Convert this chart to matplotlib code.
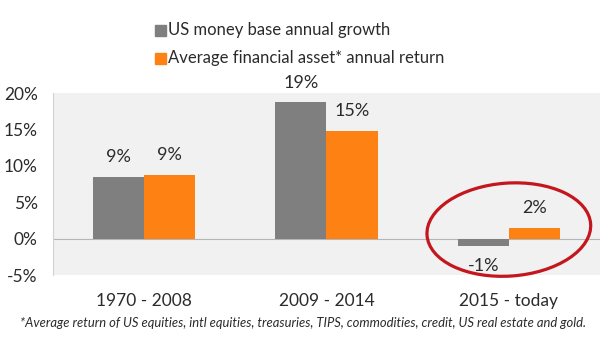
import numpy as np
import matplotlib.pyplot as plt
from matplotlib.patches import Ellipse, Rectangle
from matplotlib.transforms import ScaledTranslation

# periods and growth / return figures (%)
periods = ["1970 - 2008", "2009 - 2014", "2015 - today"]
money_base = [8.5, 18.7, -1.0]
asset_return = [8.8, 14.8, 1.5]
money_labels = ["9%", "19%", "-1%"]
asset_labels = ["9%", "15%", "2%"]
series_names = ["US money base annual growth",
                "Average financial asset* annual return"]

gray = "#7f7f7f"
orange = "#fd8113"
txt = "#2b2b2b"
plt.rcParams["font.family"] = ["Lato", "DejaVu Sans"]

fig = plt.figure(figsize=(6, 3.46), dpi=100)
ax = fig.add_axes([0.0883, 0.2052, 0.9117, 0.526])
ax.set_facecolor("#f1f1f1")

x = np.arange(len(periods))
w = 0.28
ax.bar(x - w / 2, money_base, w, color=gray)
ax.bar(x + w / 2, asset_return, w, color=orange)
ax.axhline(0, color="#b5b5b5", lw=0.8, zorder=0.5)

# value labels
for xs, vals, labs in [(x - w / 2, money_base, money_labels),
                       (x + w / 2, asset_return, asset_labels)]:
    for xi, v, lab in zip(xs, vals, labs):
        up = v >= 0
        ax.annotate(lab, (xi, v), xytext=(0, 8.5 if up else -8.5),
                    textcoords="offset points", ha="center",
                    va="bottom" if up else "top", fontsize=13, color=txt)

ax.set_xlim(-0.5, 2.5)
ax.set_ylim(-5, 20)
ax.set_yticks([-5, 0, 5, 10, 15, 20])
ax.set_yticklabels(["-5%", "0%", "5%", "10%", "15%", "20%"])
ax.set_xticks(x)
ax.set_xticklabels(periods)
ax.tick_params(length=0, labelsize=12.5, labelcolor=txt)
ax.tick_params(axis="y", pad=11)
ax.tick_params(axis="x", pad=13)
for s in ax.spines.values():
    s.set_visible(False)
ax.spines["left"].set_visible(True)
ax.spines["left"].set_color("#d2d2d2")

# red ring around the latest period
ring_tr = fig.dpi_scale_trans + ScaledTranslation(2, 1.24, ax.transData)
ax.add_patch(Ellipse((0, 0), 1.64, 0.93, angle=4, fill=False, ec="#c3161d",
                     lw=2.3, transform=ring_tr, clip_on=False))

# legend
for i, (name, c) in enumerate(zip(series_names, [gray, orange])):
    yc = 0.913 - i * 0.081
    fig.patches.append(Rectangle((155 / 600, yc - 5.5 / 346), 11 / 600, 11 / 346,
                                 color=c, transform=fig.transFigure))
    fig.text(168 / 600, yc, name, fontsize=12, color=txt, va="center")

fig.text(0.505, 0.066, "*Average return of US equities, intl equities, treasuries, "
         "TIPS, commodities, credit, US real estate and gold.",
         ha="center", va="center", fontsize=9.4, style="italic", color=txt)

fig.savefig("out.png", dpi=100)
